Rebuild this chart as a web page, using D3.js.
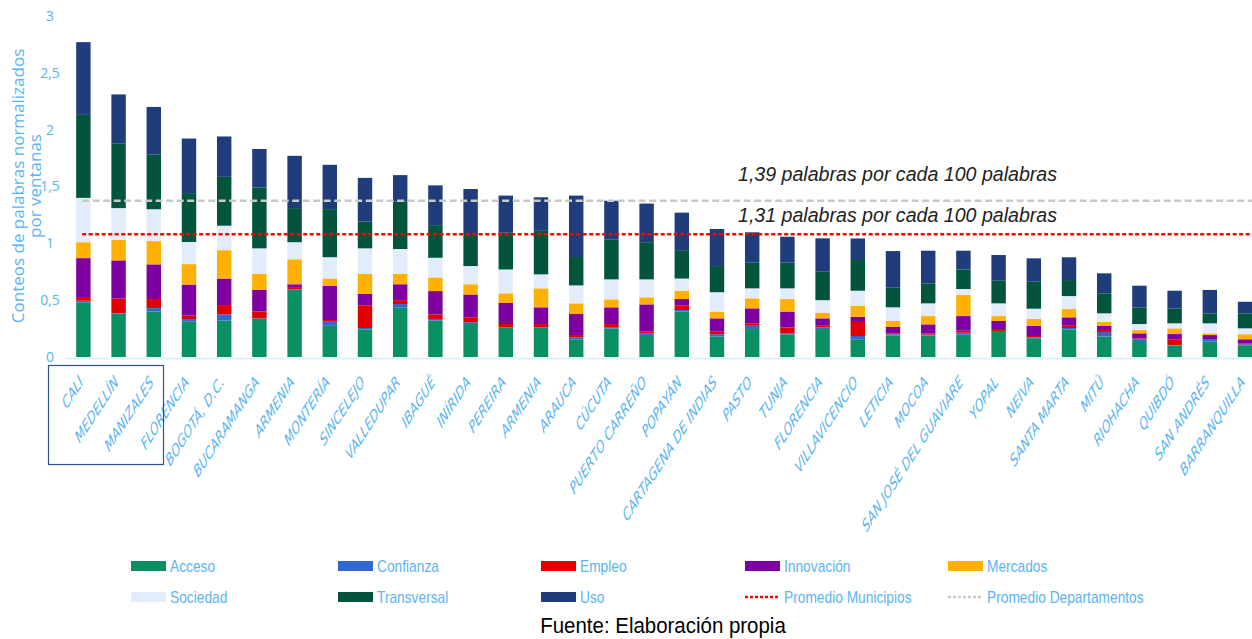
<!DOCTYPE html>
<html>
<head>
<meta charset="utf-8">
<script src="https://cdn.jsdelivr.net/npm/d3@7"></script>
<style>
  body { margin: 0; background: #fff; }
  svg { display: block; }
</style>
</head>
<body>
<div id="chart"></div>
<script>
// ciudades en el orden del gráfico
var cities = ["CALI","MEDELLÍN","MANIZALES","FLORENCIA","BOGOTÁ, D.C.","BUCARAMANGA","ARMENIA","MONTERÍA","SINCELEJO","VALLEDUPAR","IBAGUÉ","INÍRIDA","PEREIRA","ARMENIA","ARAUCA","CÚCUTA","PUERTO CARREÑO","POPAYÁN","CARTAGENA DE INDIAS","PASTO","TUNJA","FLORENCIA","VILLAVICENCIO","LETICIA","MOCOA","SAN JOSÉ DEL GUAVIARE","YOPAL","NEIVA","SANTA MARTA","MITÚ","RIOHACHA","QUIBDÓ","SAN ANDRÉS","BARRANQUILLA"];

// conteos normalizados por ventanas, una lista por categoría
var acceso      = [0.478,0.38,0.40,0.31,0.32,0.335,0.59,0.28,0.243,0.434,0.32,0.29,0.255,0.255,0.156,0.25,0.185,0.40,0.18,0.246,0.20,0.246,0.156,0.19,0.19,0.196,0.22,0.165,0.243,0.18,0.141,0.10,0.135,0.103];
var confianza   = [0.017,0.005,0.03,0.024,0.055,0.005,0.005,0.03,0.012,0.032,0.014,0.015,0.005,0.005,0.017,0.008,0.023,0.013,0.02,0.029,0.008,0.014,0.029,0.01,0.006,0.018,0.009,0.008,0.012,0.04,0.015,0.006,0.015,0.009];
var empleo      = [0.025,0.13,0.08,0.03,0.082,0.06,0.02,0.015,0.20,0.034,0.041,0.045,0.03,0.03,0.02,0.032,0.015,0.042,0.023,0.021,0.052,0.015,0.123,0.008,0.012,0.017,0.017,0.012,0.02,0.017,0.008,0.05,0.006,0.008];
var innovacion  = [0.35,0.335,0.305,0.273,0.233,0.19,0.025,0.30,0.10,0.14,0.205,0.20,0.188,0.147,0.185,0.147,0.24,0.055,0.117,0.132,0.14,0.065,0.046,0.059,0.079,0.129,0.071,0.088,0.074,0.036,0.044,0.046,0.037,0.036];
var mercados    = [0.14,0.18,0.205,0.18,0.25,0.143,0.22,0.066,0.175,0.093,0.12,0.09,0.082,0.167,0.094,0.07,0.062,0.073,0.06,0.088,0.11,0.05,0.096,0.05,0.073,0.185,0.043,0.061,0.073,0.037,0.029,0.05,0.015,0.044];
var sociedad    = [0.39,0.28,0.28,0.195,0.215,0.223,0.15,0.187,0.226,0.217,0.173,0.16,0.21,0.123,0.158,0.176,0.158,0.107,0.17,0.088,0.094,0.11,0.133,0.12,0.112,0.053,0.112,0.091,0.114,0.074,0.053,0.044,0.088,0.052];
var transversal = [0.73,0.57,0.48,0.43,0.43,0.534,0.30,0.423,0.235,0.416,0.287,0.273,0.323,0.383,0.25,0.352,0.327,0.25,0.23,0.226,0.226,0.25,0.27,0.176,0.176,0.172,0.199,0.237,0.141,0.176,0.144,0.132,0.088,0.132];
var uso         = [0.64,0.43,0.42,0.48,0.355,0.34,0.46,0.39,0.385,0.234,0.35,0.405,0.327,0.295,0.54,0.34,0.34,0.33,0.326,0.267,0.228,0.294,0.19,0.319,0.287,0.165,0.226,0.206,0.2,0.176,0.193,0.155,0.206,0.102];

var seriesNames = ["Acceso","Confianza","Empleo","Innovación","Mercados","Sociedad","Transversal","Uso"];
var seriesValues = [acceso, confianza, empleo, innovacion, mercados, sociedad, transversal, uso];
var seriesColors = ["#0a8f64","#3068d0","#e00000","#7f00a0","#ffb000","#e2ecfa","#03543c","#1f3c7b"];

// promedios (en unidades del eje) y sus rótulos
var avgNames  = ["Promedio Municipios","Promedio Departamentos"];
var avgValues = [1.08, 1.375];
var avgLabels = ["1,31 palabras por cada 100 palabras","1,39 palabras por cada 100 palabras"];

var yTicks = [0, 0.5, 1, 1.5, 2, 2.5, 3];

var W = 1252, H = 639;
var lightBlue = "#5bb4f2";

var svg = d3.select("#chart").append("svg")
    .attr("width", W)
    .attr("height", H);

var rows = cities.map(function(c, i) {
  var r = {idx: i, city: c};
  seriesNames.forEach(function(s, j) { r[s] = seriesValues[j][i]; });
  return r;
});

var x = d3.scaleBand()
    .domain(d3.range(cities.length))
    .range([55.4, 1273])
    .padding(0.59);

var y = d3.scaleLinear()
    .domain([0, 3])
    .range([357, 16]);

var stack = d3.stack().keys(seriesNames);
var layers = stack(rows);

// eje y, solo rótulos
var yAxis = svg.append("g")
    .attr("transform", "translate(58,0)")
    .call(d3.axisLeft(y).tickValues(yTicks).tickSize(0).tickFormat(function(d) {
      return String(d).replace(".", ",");
    }));
yAxis.select(".domain").remove();
yAxis.selectAll("text")
    .attr("x", -8)
    .attr("text-anchor", "middle")
    .style("font-family", "'Open Sans', sans-serif")
    .style("font-size", "14px")
    .style("fill", lightBlue);

// título del eje y en dos líneas
var yTitle = svg.append("text")
    .attr("transform", "translate(24,186) rotate(-90)")
    .attr("text-anchor", "middle")
    .style("font-family", "'Open Sans', sans-serif")
    .style("font-size", "17px")
    .style("fill", lightBlue);
yTitle.append("tspan").attr("x", 0).attr("y", 0).text("Conteos de palabras normalizados");
yTitle.append("tspan").attr("x", 0).attr("y", 17).text("por ventanas");

// línea base
svg.append("line")
    .attr("x1", 65).attr("x2", W)
    .attr("y1", y(0) + 1.5).attr("y2", y(0) + 1.5)
    .attr("stroke", "#d8f1fb")
    .attr("stroke-width", 2);

// barras apiladas
svg.append("g").selectAll("g")
    .data(layers)
  .enter().append("g")
    .attr("fill", function(d, i) { return seriesColors[i]; })
  .selectAll("rect")
    .data(function(d) { return d; })
  .enter().append("rect")
    .attr("x", function(d) { return x(d.data.idx); })
    .attr("width", x.bandwidth())
    .attr("y", function(d) { return y(d[1]); })
    .attr("height", function(d) { return y(d[0]) - y(d[1]); });

// líneas de promedio
var avgStyles = [
  {color: "#ff0000", dash: "4,2.5", width: 2.5},
  {color: "#c9c9c9", dash: "7,3.5", width: 2.5}
];
avgValues.forEach(function(v, i) {
  svg.append("line")
      .attr("x1", x(0) + 6).attr("x2", W)
      .attr("y1", y(v)).attr("y2", y(v))
      .attr("stroke", avgStyles[i].color)
      .attr("stroke-width", avgStyles[i].width)
      .attr("stroke-dasharray", avgStyles[i].dash);
});

// rótulos de los promedios
[[avgLabels[1], 181], [avgLabels[0], 222]].forEach(function(t) {
  svg.append("text")
      .attr("x", 738).attr("y", t[1])
      .style("font-family", "'Liberation Sans', Arial, sans-serif")
      .style("font-style", "italic")
      .style("font-size", "20px")
      .style("fill", "#222")
      .attr("textLength", 319)
      .attr("lengthAdjust", "spacingAndGlyphs")
      .text(t[0]);
});

// rótulos de ciudades inclinados
svg.append("g").selectAll("text")
    .data(rows)
  .enter().append("text")
    .attr("transform", function(d) {
      return "translate(" + (x(d.idx) + x.bandwidth() / 2 + 0.5) + ",383) scale(0.65,1) rotate(-45)";
    })
    .attr("text-anchor", "end")
    .style("font-family", "'DejaVu Sans', sans-serif")
    .style("font-style", "italic")
    .style("font-size", "17px")
    .style("fill", lightBlue)
    .text(function(d) { return d.city; });

// recuadro de las tres primeras ciudades
svg.append("rect")
    .attr("x", 48.5).attr("y", 365.5)
    .attr("width", 115).attr("height", 99)
    .attr("fill", "none")
    .attr("stroke", "#2e4f98")
    .attr("stroke-width", 1.2);

// leyenda
var legCols = [131, 338, 541, 745, 948];
var legRows = [566, 597];
var legend = svg.append("g");
var legItems = seriesNames.map(function(s, i) { return {name: s, color: seriesColors[i], type: "box"}; })
    .concat(avgNames.map(function(s, i) { return {name: s, color: avgStyles[i].color, type: "line"}; }));

legItems.forEach(function(it, i) {
  var lx = legCols[i % 5], ly = legRows[Math.floor(i / 5)];
  if (it.type == "box") {
    legend.append("rect")
        .attr("x", lx).attr("y", ly - 5)
        .attr("width", 35).attr("height", 10)
        .attr("fill", it.color);
  } else {
    legend.append("line")
        .attr("x1", lx).attr("x2", lx + 35)
        .attr("y1", ly).attr("y2", ly)
        .attr("stroke", it.color)
        .attr("stroke-width", 2.5)
        .attr("stroke-dasharray", "3,2");
  }
  legend.append("text")
      .attr("transform", "translate(" + (lx + 39) + "," + (ly + 5.5) + ") scale(0.86,1)")
      .style("font-family", "'Liberation Sans', Arial, sans-serif")
      .style("font-size", "16px")
      .style("fill", lightBlue)
      .text(it.name);
});

// fuente
svg.append("text")
    .attr("transform", "translate(663,633) scale(0.93,1)")
    .attr("text-anchor", "middle")
    .style("font-family", "'Liberation Sans', Arial, sans-serif")
    .style("font-size", "22px")
    .style("fill", "#000")
    .text("Fuente: Elaboración propia");
</script>
</body>
</html>
